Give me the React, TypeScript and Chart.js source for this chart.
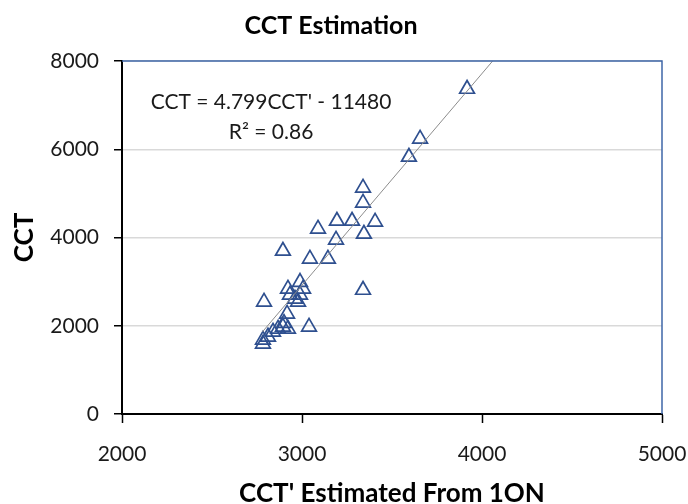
import React, { useEffect, useRef } from "react";
import { Chart, registerables } from "chart.js";

Chart.register(...registerables);

// CCT' estimated from 1ON (x) and measured CCT (y)
const cctPrime = [
  2783, 2783, 2811, 2839, 2867, 2922, 2894, 2900, 3039, 2917, 2789, 2978, 2961,
  2933, 2989, 2922, 3006, 2989, 3339, 3044, 3144, 2894, 3189, 3344, 3089,
  3194, 3278, 3406, 3339, 3339, 3594, 3656, 3917,
];
const cct = [
  1590, 1680, 1750, 1860, 1930, 1930, 1975, 2060, 1975, 2270, 2540, 2540, 2610,
  2700, 2700, 2835, 2835, 2990, 2810, 3515, 3515, 3695, 3945, 4080, 4195,
  4375, 4375, 4355, 4785, 5125, 5825, 6235, 7365,
];

const xTicks = [2000, 3000, 4000, 5000];
const yTicks = [0, 2000, 4000, 6000, 8000];

// Linear trendline shown on the chart
const slope = 4.799;
const intercept = -11480;
const trendX = [2780, 4059];

const equationText = "CCT = 4.799CCT' - 11480";
const r2Text = "R\u00B2 = 0.86";
const equationAnchor = { x: 2828, y: 7060 };
const r2Anchor = { x: 2828, y: 6380 };

const FONT = 'Lato, "Open Sans", "Liberation Sans", sans-serif';

const framePlugin = {
  id: "frameAndLabels",
  afterDatasetsDraw(chart: any) {
    const { ctx, chartArea, scales } = chart;
    ctx.save();
    // top and right plot-area border
    ctx.strokeStyle = "#3F67A8";
    ctx.lineWidth = 1.5;
    ctx.beginPath();
    ctx.moveTo(chartArea.left, chartArea.top);
    ctx.lineTo(chartArea.right, chartArea.top);
    ctx.lineTo(chartArea.right, chartArea.bottom);
    ctx.stroke();
    // equation text
    ctx.fillStyle = "#1a1a1a";
    ctx.font = `21px ${FONT}`;
    ctx.textAlign = "center";
    ctx.textBaseline = "middle";
    ctx.fillText(
      equationText,
      scales.x.getPixelForValue(equationAnchor.x),
      scales.y.getPixelForValue(equationAnchor.y)
    );
    ctx.fillText(
      r2Text,
      scales.x.getPixelForValue(r2Anchor.x),
      scales.y.getPixelForValue(r2Anchor.y)
    );
    ctx.restore();
  },
};

export default function App() {
  const ref = useRef<HTMLCanvasElement | null>(null);

  useEffect(() => {
    document.body.style.margin = "0";
    const canvas = ref.current;
    if (!canvas) return;
    const points = cctPrime.map((x, i) => ({ x, y: cct[i] }));
    const trend = trendX.map((x) => ({ x, y: slope * x + intercept }));

    const chart = new Chart(canvas, {
      type: "scatter",
      data: {
        datasets: [
          {
            type: "line",
            label: "Trend",
            data: trend,
            borderColor: "#8C8C8C",
            borderWidth: 1,
            pointRadius: 0,
            fill: false,
          },
          {
            label: "CCT",
            data: points,
            pointStyle: "triangle",
            pointRadius: 8.5,
            pointHoverRadius: 8.5,
            borderColor: "#2E4F8F",
            backgroundColor: "rgba(255,255,255,0)",
            borderWidth: 1.7,
          },
        ],
      },
      options: {
        responsive: false,
        animation: false,
        layout: { padding: { left: 0, right: 26, top: 0, bottom: 0 } },
        plugins: {
          legend: { display: false },
          tooltip: { enabled: false },
          title: {
            display: true,
            text: "CCT Estimation",
            color: "#000",
            font: { family: FONT, size: 25, weight: "bold", lineHeight: 1.2 },
            padding: { top: 11, bottom: 20 },
          },
        },
        scales: {
          x: {
            type: "linear",
            min: 2000,
            max: 5000,
            afterBuildTicks: (s: any) => {
              s.ticks = xTicks.map((v) => ({ value: v }));
            },
            afterFit: (s: any) => {
              s.height = 90;
              s.paddingLeft = 0;
              s.paddingRight = 0;
            },
            ticks: {
              color: "#1a1a1a",
              font: { family: FONT, size: 21 },
              padding: 19,
              callback: (v: any) => String(v),
            },
            grid: {
              drawOnChartArea: false,
              drawTicks: true,
              tickLength: 9,
              tickColor: "#000",
              tickWidth: 1.5,
            },
            border: { color: "#000", width: 2 },
            title: {
              display: true,
              text: "CCT' Estimated From 1ON",
              color: "#000",
              font: { family: FONT, size: 26, weight: "bold", lineHeight: 0.8 },
              padding: { top: 0, bottom: 0 },
            },
          },
          y: {
            type: "linear",
            min: 0,
            max: 8000,
            afterBuildTicks: (s: any) => {
              s.ticks = yTicks.map((v) => ({ value: v }));
            },
            afterFit: (s: any) => {
              s.width = 122;
              s.paddingTop = 0;
              s.paddingBottom = 0;
            },
            ticks: {
              color: "#1a1a1a",
              font: { family: FONT, size: 21 },
              padding: 15,
              callback: (v: any) => String(v),
            },
            grid: {
              color: "#D9D9D9",
              lineWidth: 1.5,
              drawTicks: true,
              tickLength: 8,
              tickColor: "#000",
              tickWidth: 1.5,
            },
            border: { color: "#000", width: 2 },
            title: {
              display: true,
              text: "CCT",
              color: "#000",
              font: { family: FONT, size: 26, weight: "bold", lineHeight: 1.2 },
              padding: { top: 9, bottom: 0 },
            },
          },
        },
      },
      plugins: [framePlugin],
    });
    return () => chart.destroy();
  }, []);

  return (
    <div style={{ position: "absolute", left: 0, top: 0, width: 688, height: 504 }}>
      <canvas ref={ref} width={688} height={504} />
    </div>
  );
}
